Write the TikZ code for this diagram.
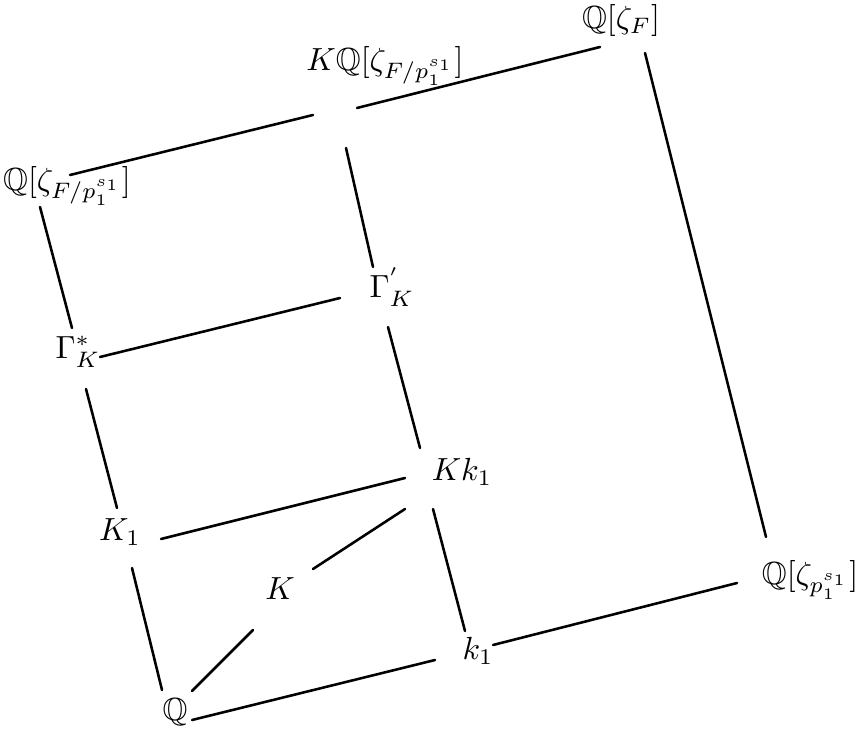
\documentclass[tikz,border=0pt]{standalone}
\usepackage{amssymb}
\begin{document}
\begin{tikzpicture}[x=0.3125pt,y=-0.3125pt,
  field/.style={inner sep=3pt},
  link/.style={line width=0.8pt, line cap=round}]
\useasboundingbox (0,0) rectangle (858,730);
% fields
\node[field] (Q)   at (175,712) {$\mathbb{Q}$};
\node[field] (k1)  at (478,651) {$k_1$};
\node[field] (Qp)  at (810,580) {$\mathbb{Q}[\zeta_{p_1^{s_1}}]$};
\node[field] (K)   at (280,589) {$K$};
\node[field] (K1)  at (120,532) {$K_1$};
\node[field] (Kk1) at (462,472) {$Kk_1$};
\node[field] (Gs)  at (78,352)  {$\Gamma^*_K$};
\node[field] (Gp)  at (392,287) {$\Gamma^{'}_K$};
\node[field] (QL)  at (67,186)  {$\mathbb{Q}[\zeta_{F/p_1^{s_1}}]$};
\node[field] (KQ)  at (385,66)  {$K\mathbb{Q}[\zeta_{F/p_1^{s_1}}]$};
\node[field] (QF)  at (621,21)  {$\mathbb{Q}[\zeta_F]$};
% ends of the inclusion segments (X-to-Y is the end of segment X--Y near X)
\coordinate (Q-to-k1)   at (192,720); \coordinate (k1-to-Q)   at (435,660);
\coordinate (k1-to-Qp)  at (493,645); \coordinate (Qp-to-k1)  at (737,583);
\coordinate (Q-to-K)    at (192,691); \coordinate (K-to-Q)    at (253,630);
\coordinate (K-to-Kk1)  at (313,569); \coordinate (Kk1-to-K)  at (405,509);
\coordinate (Q-to-K1)   at (162,690); \coordinate (K1-to-Q)   at (132,568);
\coordinate (K1-to-Kk1) at (161,539); \coordinate (Kk1-to-K1) at (405,478);
\coordinate (k1-to-Kk1) at (465,631); \coordinate (Kk1-to-k1) at (433,509);
\coordinate (K1-to-Gs)  at (117,508); \coordinate (Gs-to-K1)  at (86,389);
\coordinate (Gs-to-Gp)  at (100,357); \coordinate (Gp-to-Gs)  at (340,298);
\coordinate (Kk1-to-Gp) at (420,448); \coordinate (Gp-to-Kk1) at (388,327);
\coordinate (Gs-to-QL)  at (72,328);  \coordinate (QL-to-Gs)  at (40,207);
\coordinate (Gp-to-KQ)  at (373,267); \coordinate (KQ-to-Gp)  at (346,148);
\coordinate (QL-to-KQ)  at (70,175);  \coordinate (KQ-to-QL)  at (313,115);
\coordinate (KQ-to-QF)  at (357,108); \coordinate (QF-to-KQ)  at (600,47);
\coordinate (QF-to-Qp)  at (645,53);  \coordinate (Qp-to-QF)  at (766,537);
% inclusions
\draw[link] (Q-to-k1) -- (k1-to-Q);
\draw[link] (k1-to-Qp) -- (Qp-to-k1);
\draw[link] (Q-to-K) -- (K-to-Q);
\draw[link] (K-to-Kk1) -- (Kk1-to-K);
\draw[link] (Q-to-K1) -- (K1-to-Q);
\draw[link] (K1-to-Kk1) -- (Kk1-to-K1);
\draw[link] (k1-to-Kk1) -- (Kk1-to-k1);
\draw[link] (K1-to-Gs) -- (Gs-to-K1);
\draw[link] (Gs-to-Gp) -- (Gp-to-Gs);
\draw[link] (Kk1-to-Gp) -- (Gp-to-Kk1);
\draw[link] (Gs-to-QL) -- (QL-to-Gs);
\draw[link] (Gp-to-KQ) -- (KQ-to-Gp);
\draw[link] (QL-to-KQ) -- (KQ-to-QL);
\draw[link] (KQ-to-QF) -- (QF-to-KQ);
\draw[link] (QF-to-Qp) -- (Qp-to-QF);
\end{tikzpicture}
\end{document}
